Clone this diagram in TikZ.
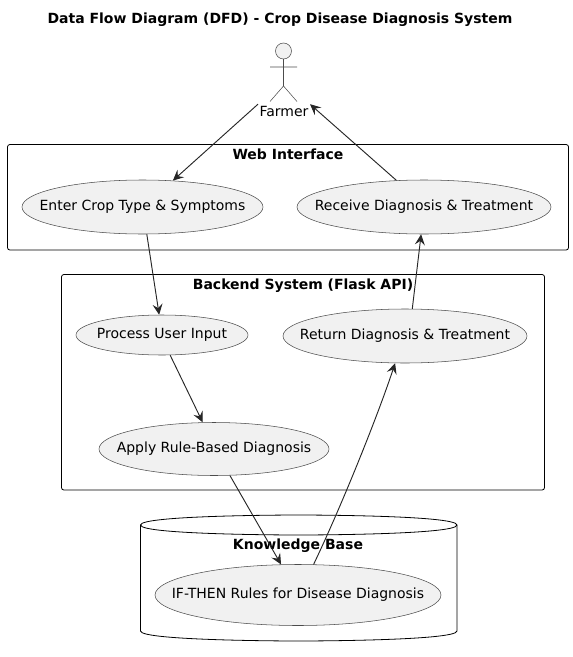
\documentclass[tikz,border=0pt]{standalone}
\usepackage{fontspec}
\setmainfont{DejaVu Sans}
\usetikzlibrary{shapes.geometric,arrows.meta}
\definecolor{usecasefill}{HTML}{F1F1F1}
\tikzset{
  usecase/.style 2 args={ellipse,draw=black!70,line width=0.4pt,fill=usecasefill,inner sep=0pt,minimum width=#1*0.75pt,minimum height=#2*0.75pt},
  cluster/.style={draw=black,line width=0.6pt,rounded corners=1.8pt},
  clustertitle/.style={inner sep=0pt,anchor=base,font=\fontsize{10.5}{12}\selectfont\bfseries},
  flow/.style={draw=black!85,line width=0.7pt,-{Stealth[length=8pt,width=7.5pt,inset=3pt]}},
  stick/.style={draw=black!70,line width=0.4pt},
}
\begin{document}
\begin{tikzpicture}[x=0.75pt, y=-0.75pt, font=\fontsize{10.5}{12}\selectfont]
      \useasboundingbox (0,0) rectangle (573,657);
      \node[clustertitle] (diagramtitle) at (280,23) {Data Flow Diagram (DFD) - Crop Disease Diagnosis System};
      % containers
      \draw[cluster] (7.5,144.5) rectangle (568.5,250);
      \node[clustertitle] (webtitle) at (288,159) {Web Interface};
      \draw[cluster] (61.5,274.5) rectangle (544.5,490);
      \node[clustertitle] (backendtitle) at (303,289) {Backend System (Flask API)};
      \draw[draw=black,line width=0.6pt] (140.5,525) .. controls (140.5,515) and (298.5,515) .. (298.5,515)
        .. controls (298.5,515) and (457,515) .. (457,525) -- (457,631)
        .. controls (457,641) and (298.5,641) .. (298.5,641)
        .. controls (298.5,641) and (140.5,641) .. (140.5,631) -- cycle;
      \draw[draw=black,line width=0.6pt] (140.5,525) .. controls (140.5,535) and (298.5,535) .. (298.5,535)
        .. controls (298.5,535) and (457,535) .. (457,525);
      \node[clustertitle] (kbtitle) at (298,549) {Knowledge Base};
      % actor
      \draw[stick,fill=usecasefill] (283.5,51) circle (8);
      \draw[stick] (283.5,59) -- (283.5,86) (270,67) -- (297,67) (270,101.5) -- (283.5,86) -- (297,101.5);
      \node[inner sep=1pt] (farmer) at (284,111) {Farmer};
      % use cases
      \node[usecase={241}{54},label=center:{Enter Crop Type \& Symptoms}] (enter) at (142.5,207) {};
      \node[usecase={254}{54},label=center:{Receive Diagnosis \& Treatment}] (receive) at (424,207) {};
      \node[usecase={172}{40},label=center:{Process User Input}] (process) at (162,335) {};
      \node[usecase={244}{54},label=center:{Return Diagnosis \& Treatment}] (return) at (405,336) {};
      \node[usecase={230}{53},label=center:{Apply Rule-Based Diagnosis}] (apply) at (214,449) {};
      \node[usecase={286}{61},label=center:{IF-THEN Rules for Disease Diagnosis}] (rules) at (298,595) {};
      % flows
      \draw[flow] (farmer.north west) -- (enter.41);
      \draw[flow] (enter.-81) -- (process.98);
      \draw[flow] (process.-68) -- (apply.113);
      \draw[flow] (apply.-59) -- (rules.119);
      \draw[flow] (rules.63) .. controls (342,505) and (378,415) .. (return.-110);
      \draw[flow] (return.75) -- (receive.-96);
      \draw[flow] (receive.136) -- (farmer.north east);
    \end{tikzpicture}
\end{document}
